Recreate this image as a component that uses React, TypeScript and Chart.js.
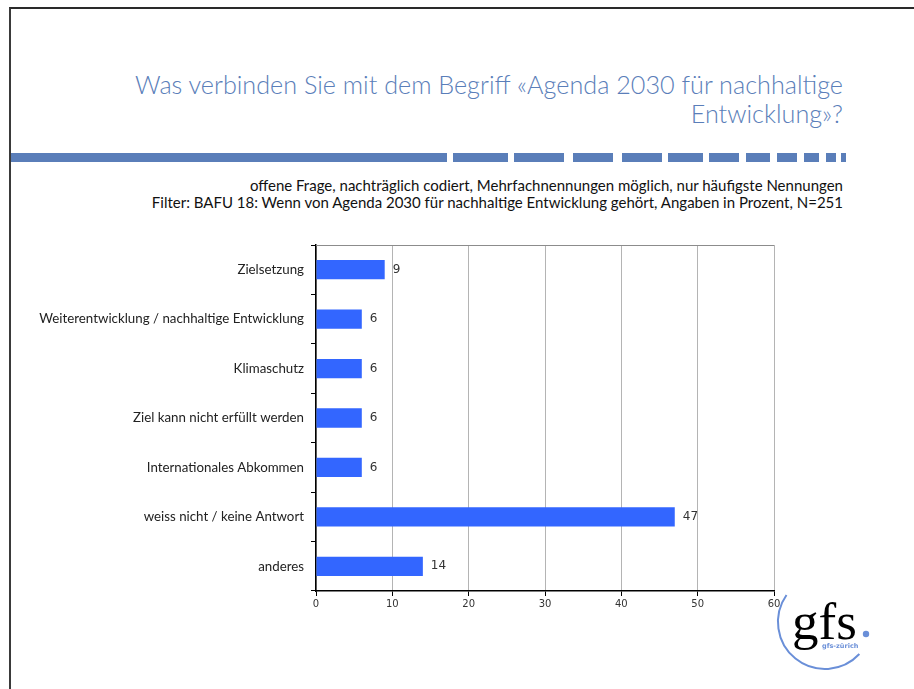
import React, { useEffect, useRef } from "react";
import { Chart, registerables } from "chart.js";

Chart.register(...registerables);

const titleLines = [
  "Was verbinden Sie mit dem Begriff «Agenda 2030 für nachhaltige",
  "Entwicklung»?",
];
const subtitleLines = [
  "offene Frage, nachträglich codiert, Mehrfachnennungen möglich, nur häufigste Nennungen",
  "Filter: BAFU 18: Wenn von Agenda 2030 für nachhaltige Entwicklung gehört, Angaben in Prozent, N=251",
];
const categories = [
  "Zielsetzung",
  "Weiterentwicklung / nachhaltige Entwicklung",
  "Klimaschutz",
  "Ziel kann nicht erfüllt werden",
  "Internationales Abkommen",
  "weiss nicht / keine Antwort",
  "anderes",
];
const values = [9, 6, 6, 6, 6, 47, 14];
const xTicks = [0, 10, 20, 30, 40, 50, 60];

const BLUE = "#5a7eb9";

// decorative header rule: [start, end] in px
const ruleSegments: [number, number][] = [
  [11, 447], [453, 508], [514, 564], [573, 613], [622, 662], [668, 703],
  [709, 739], [746, 770], [777, 797], [804, 819], [826, 836], [841, 846],
];

const valueLabels = {
  id: "valueLabels",
  afterDatasetsDraw(chart: any) {
    const ctx = chart.ctx;
    const meta = chart.getDatasetMeta(0);
    ctx.save();
    ctx.font = "12px 'DejaVu Sans'";
    ctx.fillStyle = "#333";
    ctx.textBaseline = "middle";
    ctx.textAlign = "left";
    meta.data.forEach((bar: any, i: number) => {
      ctx.fillText(String(chart.data.datasets[0].data[i]), bar.x + 8, bar.y);
    });
    ctx.restore();
  },
};

const frameLines = {
  id: "frameLines",
  afterDraw(chart: any) {
    const { ctx, chartArea } = chart;
    ctx.save();
    ctx.strokeStyle = "#8c8c8c";
    ctx.lineWidth = 1;
    ctx.beginPath();
    ctx.moveTo(chartArea.left, chartArea.top + 0.5);
    ctx.lineTo(chartArea.right, chartArea.top + 0.5);
    ctx.stroke();
    ctx.restore();
  },
};

function ChartCanvas() {
  const ref = useRef<HTMLCanvasElement | null>(null);
  useEffect(() => {
    if (!ref.current) return;
    const chart = new Chart(ref.current, {
      type: "bar",
      data: {
        labels: categories,
        datasets: [
          {
            data: values,
            backgroundColor: "#3366ff",
            borderWidth: 0,
            categoryPercentage: 1,
            barPercentage: 0.39,
          },
        ],
      },
      options: {
        indexAxis: "y",
        responsive: false,
        animation: false,
        devicePixelRatio: 1,
        layout: { padding: { top: 245, right: 140, bottom: 58, left: 0 } },
        plugins: {
          legend: { display: false },
          tooltip: { enabled: false },
          title: { display: false },
        },
        scales: {
          x: {
            min: 0,
            max: 60,
            afterBuildTicks: (scale: any) => {
              scale.ticks = xTicks.map((v) => ({ value: v }));
            },
            afterFit: (scale: any) => {
              scale.height = 40;
            },
            ticks: {
              font: { family: "'DejaVu Sans'", size: 10 },
              color: "#333",
              padding: 2,
            },
            grid: {
              color: "#b4b4b4",
              tickColor: "#000",
              tickLength: 5,
              lineWidth: 1,
            },
            border: { color: "#000", width: 1.5 },
          },
          y: {
            afterFit: (scale: any) => {
              scale.width = 316;
            },
            ticks: {
              font: { family: "Lato", size: 13.3 },
              color: "#222",
              padding: 7,
              autoSkip: false,
            },
            grid: {
              drawOnChartArea: false,
              tickColor: "#000",
              tickLength: 5,
              offset: true,
            },
            border: { color: "#000", width: 1.5 },
          },
        },
      },
      plugins: [valueLabels, frameLines],
    } as any);
    return () => chart.destroy();
  }, []);
  return (
    <canvas
      ref={ref}
      width={914}
      height={689}
      style={{ position: "absolute", left: 0, top: 0, width: 914, height: 689 }}
    />
  );
}

function Logo() {
  const cx = 825, cy = 622, r = 47;
  const a1 = (215 * Math.PI) / 180;
  const a2 = (43 * Math.PI) / 180;
  const x1 = cx + r * Math.cos(a1), y1 = cy + r * Math.sin(a1);
  const x2 = cx + r * Math.cos(a2), y2 = cy + r * Math.sin(a2);
  return (
    <svg
      width={914}
      height={689}
      style={{ position: "absolute", left: 0, top: 0, pointerEvents: "none" }}
    >
      <path
        d={`M ${x1} ${y1} A ${r} ${r} 0 0 0 ${x2} ${y2}`}
        fill="none"
        stroke="#6a8fd8"
        strokeWidth={2}
      />
      <text
        x={792}
        y={639}
        fontFamily="'Liberation Serif', serif"
        fontSize={53}
        textLength={65}
        fill="#000"
      >
        gfs
      </text>
      <circle cx={866} cy={634} r={3.2} fill="#6a8fd8" />
      <text
        x={822}
        y={648}
        fontFamily="'DejaVu Sans'"
        fontWeight="bold"
        fontSize={6.5}
        fill="#6a8fd8"
      >
        gfs-zürich
      </text>
    </svg>
  );
}

export default function App() {
  return (
    <div
      style={{
        position: "fixed",
        left: 0,
        top: 0,
        width: 914,
        height: 689,
        background: "#fff",
        overflow: "hidden",
      }}
    >
      <div
        style={{
          position: "absolute",
          left: 9,
          top: 7,
          width: 960,
          height: 720,
          borderTop: "2px solid #2a2a2a",
          borderLeft: "2px solid #3a3a3a",
        }}
      />
      <div
        style={{
          position: "absolute",
          right: 71,
          top: 70,
          textAlign: "right",
          fontFamily: "Lato",
          fontWeight: 300,
          fontSize: 25.2,
          lineHeight: "29px",
          color: BLUE,
          whiteSpace: "nowrap",
        }}
      >
        {titleLines.map((t, i) => (
          <div key={i}>{t}</div>
        ))}
      </div>
      {ruleSegments.map(([a, b], i) => (
        <div
          key={i}
          style={{
            position: "absolute",
            left: a,
            top: 153,
            width: b - a,
            height: 9,
            background: BLUE,
          }}
        />
      ))}
      <div
        style={{
          position: "absolute",
          right: 71,
          top: 177,
          textAlign: "right",
          fontFamily: "Lato",
          fontSize: 15,
          lineHeight: "17px",
          color: "#111",
          whiteSpace: "nowrap",
        }}
      >
        {subtitleLines.map((t, i) => (
          <div key={i}>{t}</div>
        ))}
      </div>
      <ChartCanvas />
      <Logo />
    </div>
  );
}
